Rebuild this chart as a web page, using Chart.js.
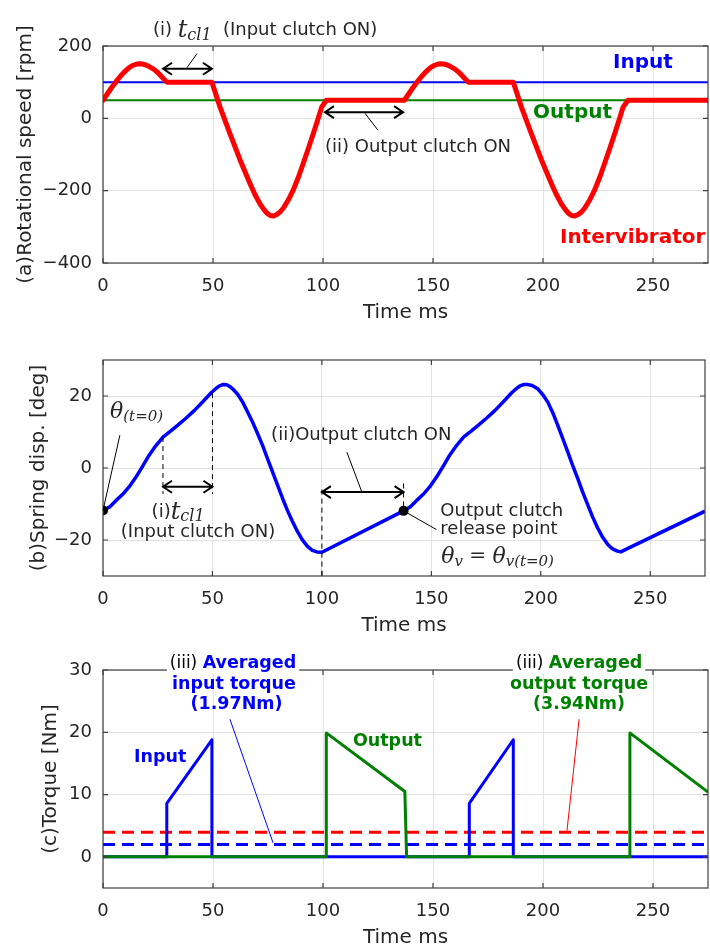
<!DOCTYPE html>
<html>
<head>
<meta charset="utf-8">
<script src="https://cdn.jsdelivr.net/npm/chart.js@4.4.1/dist/chart.umd.min.js"></script>
<style>
  body { margin: 0; background: #fff; width: 710px; height: 949px; overflow: hidden; position: relative; }
  canvas { position: absolute; left: 0; }
</style>
</head>
<body>
<canvas id="cA" width="710" height="330" style="top:0px"></canvas>
<canvas id="cB" width="710" height="310" style="top:330px"></canvas>
<canvas id="cC" width="710" height="309" style="top:640px"></canvas>
<script>
// ---- data ----
const timeTicks = [0, 50, 100, 150, 200, 250];
const timeMax = 275;

// (a) rotational speed [rpm]
const speedTicks = [-400, -200, 0, 200];
const speedInput = 100;
const speedOutput = 50;
const interTime = [0, 2, 4, 6, 8, 10, 12, 13.5, 15, 16.5, 18, 19.5, 21, 23, 25, 27, 29, 49.5,
  53.2, 57.7, 62.3, 66.8, 69, 71.4, 73, 74.5, 76, 77.5, 79, 80.5, 82, 84.2, 86.5, 88.8, 91, 93.3, 95.6, 97.5, 99.4, 101.5,
  137, 139, 141, 143, 145, 147, 149, 150.5, 152, 153.5, 155, 156.5, 158, 160, 162, 164, 166, 186.5,
  190.2, 194.7, 199.3, 203.8, 206, 208.4, 210, 211.5, 213, 214.5, 216, 217.5, 219, 221.2, 223.5, 225.8, 228, 230.3, 232.6, 234.5, 236.4, 238.6, 275];
const interSpeed = [50, 68, 86, 102, 117, 130, 141, 146, 149.5, 151, 150, 147.5, 143, 136, 126, 113, 100, 100,
  31, -42, -115, -180, -210, -237, -251, -262, -268.5, -270, -266, -259, -248, -226, -198, -163, -125, -84, -42, -6, 31, 50,
  50, 68, 86, 102, 117, 130, 141, 146, 149.5, 151, 150, 147.5, 143, 136, 126, 113, 100, 100,
  31, -42, -115, -180, -210, -237, -251, -262, -268.5, -270, -266, -259, -248, -226, -198, -163, -125, -84, -42, -6, 31, 50, 50];

// (b) spring displacement [deg]
const dispTicks = [-20, 0, 20];
const springTime = [0, 3, 6, 9, 12, 15, 18, 21, 24, 27.4, 31, 34.2, 38, 41.8, 45.6, 49.4, 52, 53.5, 55, 56.5, 58, 59.2,
  61.5, 63.8, 66, 68.3, 70.6, 72.9, 75.1, 77.4, 79.7, 82, 84.2, 86.5, 88.8, 91, 93.3, 95.6, 97.7, 100,
  137.3, 140.3, 143.3, 146.3, 149.3, 152.3, 155.3, 158.3, 161.3, 164.7, 168.3, 171.5, 175.3, 179.1, 182.9, 186.7,
  189.3, 190.8, 192.3, 193.8, 195.5, 197, 198.6, 201, 203.2, 205.5, 207.7, 210, 212.3, 214.5, 216.8, 219, 221.4,
  223.6, 225.9, 228.2, 230.5, 232, 233.5, 235, 236.5, 275];
const springDisp = [-11.8, -10.8, -9.0, -7.3, -5.2, -2.6, 0.4, 3.5, 6.1, 8.6, 10.3, 11.9, 13.9, 16, 18.4, 20.9, 22.3, 22.9, 23.2, 23.1, 22.6, 22,
  20.5, 18.3, 15.6, 12.8, 9.6, 6.3, 2.7, -1, -4.7, -8.4, -11.7, -14.8, -17.6, -19.9, -21.7, -22.9, -23.3, -23.4,
  -11.9, -10.8, -9.0, -7.3, -5.2, -2.6, 0.4, 3.5, 6.1, 8.6, 10.3, 11.9, 13.9, 16, 18.4, 20.9,
  22.3, 22.9, 23.2, 23.2, 23.0, 22.6, 22, 20.3, 18.3, 15.3, 11.9, 8.2, 4.5, 0.8, -2.8, -6.5, -10.2,
  -13.5, -16.6, -19.2, -21.2, -22.1, -22.7, -23.1, -23.3, -12];
const markTime = [0, 137.3];
const markDisp = [-11.8, -11.9];

// (c) torque [Nm]
const torqueTicks = [0, 10, 20, 30];
const inTorqueTime = [0, 29, 29, 49.5, 49.5, 166.5, 166.5, 186.5, 186.5, 275];
const inTorque = [0, 0, 8.6, 18.8, 0, 0, 8.6, 18.8, 0, 0];
const outTorqueTime = [0, 101.5, 101.5, 137.2, 138, 239.5, 239.5, 275];
const outTorque = [0, 0, 19.9, 10.5, 0, 0, 19.9, 10.4];
const avgInTorque = 1.97;
const avgOutTorque = 3.94;

// ---- helpers ----
const FONT = '"DejaVu Sans", sans-serif';
const MATH = '"DejaVu Serif", serif';
const f = (s, b) => (b ? 'bold ' : '') + s + 'px ' + FONT;
const m = s => 'italic ' + s + 'px ' + MATH;
const BLUE = '#0000ff', GREEN = '#008000', RED = '#ff0000', INK = '#262626';

const pts = (xs, ys) => xs.map((x, i) => ({ x: x, y: ys[i] }));
const flat = v => [{ x: 0, y: v }, { x: timeMax, y: v }];
const minus = v => (v < 0 ? '\u2212' + (-v) : '' + v);

function px(c, x, y) {
  return [c.scales.x.getPixelForValue(x), c.scales.y.getPixelForValue(y)];
}

function seg(c, list, color, w, dash) {
  const ctx = c.ctx;
  ctx.save();
  ctx.beginPath();
  list.forEach((p, i) => {
    const [X, Y] = px(c, p[0], p[1]);
    if (i) ctx.lineTo(X, Y); else ctx.moveTo(X, Y);
  });
  ctx.strokeStyle = color || '#000';
  ctx.lineWidth = w || 1;
  ctx.setLineDash(dash || []);
  ctx.stroke();
  ctx.restore();
}

function arrow(c, x1, x2, y) {
  const ctx = c.ctx;
  const [a, Y] = px(c, x1, y);
  const [b] = px(c, x2, y);
  ctx.save();
  ctx.strokeStyle = '#000';
  ctx.lineWidth = 2;
  ctx.beginPath();
  ctx.moveTo(a, Y); ctx.lineTo(b, Y);
  ctx.moveTo(a + 9, Y - 6); ctx.lineTo(a, Y); ctx.lineTo(a + 9, Y + 6);
  ctx.moveTo(b - 9, Y - 6); ctx.lineTo(b, Y); ctx.lineTo(b - 9, Y + 6);
  ctx.stroke();
  ctx.restore();
}

// parts: [text, font, color, dy]
function text(c, x, y, parts, align, bg) {
  const ctx = c.ctx;
  let [X, Y] = px(c, x, y);
  ctx.save();
  ctx.textBaseline = 'middle';
  ctx.textAlign = 'left';
  const ws = parts.map(p => { ctx.font = p[1]; return ctx.measureText(p[0]).width; });
  const tot = ws.reduce((s, w) => s + w, 0);
  if (align === 'center') X -= tot / 2;
  else if (align === 'right') X -= tot;
  if (bg) { ctx.fillStyle = '#fff'; ctx.fillRect(X - 3, Y - 11, tot + 6, 22); }
  parts.forEach((p, i) => {
    ctx.font = p[1];
    ctx.fillStyle = p[2] || INK;
    ctx.fillText(p[0], X, Y + (p[3] || 0));
    X += ws[i];
  });
  ctx.restore();
}

// box with inward ticks, like the original plotting tool
const frame = {
  id: 'frame',
  afterDatasetsDraw(c) {
    const { ctx, chartArea: a } = c;
    ctx.save();
    ctx.strokeStyle = '#404040';
    ctx.lineWidth = 1.2;
    ctx.beginPath();
    c.scales.x.ticks.forEach(t => {
      const X = c.scales.x.getPixelForValue(t.value);
      ctx.moveTo(X, a.bottom); ctx.lineTo(X, a.bottom - 5);
      ctx.moveTo(X, a.top); ctx.lineTo(X, a.top + 5);
    });
    c.scales.y.ticks.forEach(t => {
      const Y = c.scales.y.getPixelForValue(t.value);
      ctx.moveTo(a.left, Y); ctx.lineTo(a.left + 5, Y);
      ctx.moveTo(a.right, Y); ctx.lineTo(a.right - 5, Y);
    });
    ctx.stroke();
    ctx.strokeRect(a.left, a.top, a.right - a.left, a.bottom - a.top);
    ctx.restore();
  }
};

function options(yMin, yMax, yTicks, yTitle, titlePad, padTop, padBottom) {
  return {
    responsive: false,
    animation: false,
    events: [],
    layout: { padding: { left: 0, right: 2, top: padTop, bottom: padBottom } },
    plugins: { legend: { display: false }, tooltip: { enabled: false } },
    elements: { line: { tension: 0, borderJoinStyle: 'round' } },
    scales: {
      x: {
        type: 'linear', min: 0, max: timeMax,
        afterBuildTicks: s => { s.ticks = timeTicks.map(v => ({ value: v })); },
        afterFit: s => { s.height = 61; },
        grid: { color: '#e2e2e2', drawTicks: false },
        border: { display: false },
        ticks: { padding: 13, color: INK, font: { family: FONT, size: 18 } },
        title: { display: true, text: 'Time ms', color: INK, padding: 0,
                 font: { family: FONT, size: 20, lineHeight: 1.1 } }
      },
      y: {
        type: 'linear', min: yMin, max: yMax,
        afterBuildTicks: s => { s.ticks = yTicks.map(v => ({ value: v })); },
        afterFit: s => { s.width = 103; },
        grid: { color: '#e2e2e2', drawTicks: false },
        border: { display: false },
        ticks: { padding: 11, color: INK, font: { family: FONT, size: 18 }, callback: v => minus(v) },
        title: { display: true, text: yTitle, color: INK, padding: { top: titlePad, bottom: 0 },
                 font: { family: FONT, size: 20, lineHeight: 1.2 } }
      }
    }
  };
}

// ---- (a) rotational speed ----
new Chart(document.getElementById('cA'), {
  type: 'line',
  data: {
    datasets: [
      { data: pts(interTime, interSpeed), borderColor: RED, borderWidth: 5, pointRadius: 0, borderCapStyle: 'round' },
      { data: flat(speedInput), borderColor: BLUE, borderWidth: 2, pointRadius: 0 },
      { data: flat(speedOutput), borderColor: GREEN, borderWidth: 2, pointRadius: 0 }
    ]
  },
  options: options(-400, 200, speedTicks, '(a)Rotational speed [rpm]', 14, 46, 6),
  plugins: [frame, {
    id: 'notesA',
    afterDraw(c) {
      text(c, 22.7, 242, [['(i) ', f(18)], ['t', m(24)], ['cl1', m(16), INK, 5]]);
      text(c, 54.5, 242, [['(Input clutch ON)', f(18)]]);
      seg(c, [[38.2, 140], [42.7, 179]]);
      arrow(c, 27.3, 49.5, 137);
      arrow(c, 100.9, 136.4, 17);
      seg(c, [[119.1, 14], [125, -33]]);
      text(c, 100.9, -80, [['(ii) Output clutch ON', f(18)]]);
      text(c, 231.8, 154, [['Input', f(20, true), BLUE]]);
      text(c, 195.5, 14, [['Output', f(20, true), GREEN]]);
      text(c, 207.7, -330, [['Intervibrator', f(20, true), RED]]);
    }
  }]
});

// ---- (b) spring displacement ----
new Chart(document.getElementById('cB'), {
  type: 'line',
  data: {
    datasets: [
      { data: pts(markTime, markDisp), showLine: false, pointRadius: 5, pointBackgroundColor: '#000',
        pointBorderColor: '#000', pointBorderWidth: 0 },
      { data: pts(springTime, springDisp), borderColor: BLUE, borderWidth: 3.5, pointRadius: 0 }
    ]
  },
  options: options(-30, 30, dispTicks, '(b)Spring disp. [deg]', 27, 30, 3),
  plugins: [frame, {
    id: 'notesB',
    afterDraw(c) {
      const d = [5, 4];
      seg(c, [[27.4, 8.6], [27.4, -7.2]], '#000', 1, d);
      seg(c, [[50, 20.8], [50, -7.2]], '#000', 1, d);
      seg(c, [[100, -6], [100, -30]], '#000', 1, d);
      seg(c, [[137.3, -4.3], [137.3, -11.9]], '#000', 1, d);
      arrow(c, 27.4, 50, -5.2);
      arrow(c, 100, 137.3, -6.7);
      seg(c, [[0, -11.8], [7.7, 9.1]]);
      text(c, 3.2, 15.4, [['\u03b8', m(22)], ['(t=0)', m(15), INK, 5]]);
      text(c, 34.3, -12.3, [['(i)', f(18)], ['t', m(24)], ['cl1', m(16), INK, 5]], 'center');
      text(c, 43.4, -17.9, [['(Input clutch ON)', f(18)]], 'center');
      text(c, 76.8, 9.1, [['(ii)Output clutch ON', f(18)]]);
      seg(c, [[111.4, 4.4], [118.2, -6.6]]);
      seg(c, [[137.3, -11.9], [152.3, -17.1]]);
      text(c, 154.1, -11.9, [['Output clutch', f(18)]]);
      text(c, 154.1, -17.1, [['release point', f(18)]]);
      text(c, 154.5, -24.8, [['\u03b8', m(22)], ['v', m(15), INK, 5], [' = ', '20px ' + MATH],
        ['\u03b8', m(22)], ['v(t=0)', m(15), INK, 5]]);
    }
  }]
});

// ---- (c) torque ----
new Chart(document.getElementById('cC'), {
  type: 'line',
  data: {
    datasets: [
      { data: pts(outTorqueTime, outTorque), borderColor: GREEN, borderWidth: 3, pointRadius: 0 },
      { data: pts(inTorqueTime, inTorque), borderColor: BLUE, borderWidth: 3, pointRadius: 0 },
      { data: flat(avgOutTorque), borderColor: RED, borderWidth: 3, pointRadius: 0, borderDash: [12, 7] },
      { data: flat(avgInTorque), borderColor: BLUE, borderWidth: 3, pointRadius: 0, borderDash: [12, 7] }
    ]
  },
  options: options(-5, 30, torqueTicks, '(c)Torque [Nm]', 39, 30, 0),
  plugins: [frame, {
    id: 'notesC',
    afterDraw(c) {
      const B = f(17.5, true);
      text(c, 59.1, 31, [['(iii) ', f(17), '#000'], ['Averaged', B, BLUE]], 'center', true);
      text(c, 59.5, 27.7, [['input torque', B, BLUE]], 'center');
      text(c, 60.7, 24.5, [['(1.97Nm)', B, BLUE]], 'center');
      seg(c, [[57.7, 22.1], [77.3, 2.26]], BLUE, 1);
      text(c, 14.1, 16, [['Input', B, BLUE]]);
      text(c, 113.6, 18.5, [['Output', B, GREEN]]);
      text(c, 216.4, 31, [['(iii) ', f(17), '#000'], ['Averaged', B, GREEN]], 'center', true);
      text(c, 216.4, 27.7, [['output torque', B, GREEN]], 'center');
      text(c, 216.4, 24.5, [['(3.94Nm)', B, GREEN]], 'center');
      seg(c, [[216.4, 22.1], [210.9, 4.2]], RED, 1);
    }
  }]
});
</script>
</body>
</html>
